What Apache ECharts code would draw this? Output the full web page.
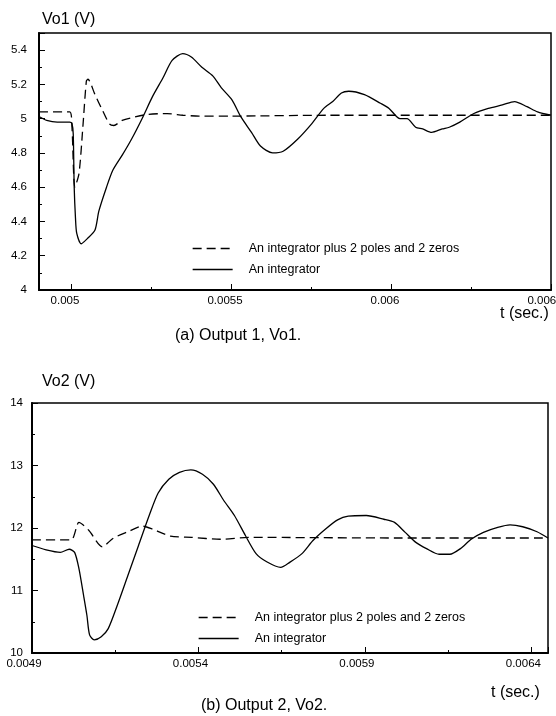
<!DOCTYPE html>
<html>
<head>
<meta charset="utf-8">
<script src="https://cdn.jsdelivr.net/npm/echarts@6/dist/echarts.min.js"></script>
<style>
  html, body { margin: 0; padding: 0; background: #fff; }
  #chart { width: 556px; height: 716px; }
</style>
</head>
<body>
<div id="chart"></div>
<script>
// names of the two controllers
const nameFilter = 'An integrator plus 2 poles and 2 zeros'
const nameInt = 'An integrator'

// (a) output 1, Vo1 : [t (sec), volts]
const vo1Filter = [
  [0.0049, 5.04], [0.004996, 5.04], [0.005003, 4.95], [0.005012, 4.6], [0.005025, 4.68],
  [0.005037, 4.95], [0.005048, 5.22], [0.005053, 5.23], [0.005075, 5.14], [0.005098, 5.05],
  [0.00512, 4.97], [0.005134, 4.96], [0.00516, 4.99], [0.0052, 5.01], [0.00524, 5.025],
  [0.0053, 5.03], [0.00535, 5.02], [0.0054, 5.015], [0.0055, 5.015], [0.0058, 5.02],
  [0.0062, 5.02], [0.0065, 5.02]
]
const vo1Int = [
  [0.004903, 5.01], [0.004924, 4.99], [0.004957, 4.98], [0.004996, 4.98], [0.005003, 4.97],
  [0.005007, 4.91], [0.00501, 4.6], [0.005014, 4.42], [0.005018, 4.33], [0.005032, 4.27],
  [0.005051, 4.3], [0.005075, 4.35], [0.005087, 4.46], [0.005111, 4.6], [0.005131, 4.7],
  [0.005161, 4.79], [0.005189, 4.88], [0.005222, 5.0], [0.005255, 5.13], [0.005288, 5.24],
  [0.005316, 5.34], [0.005349, 5.38], [0.005376, 5.36], [0.005409, 5.3], [0.005443, 5.25],
  [0.00547, 5.18], [0.005503, 5.11], [0.005531, 5.01], [0.005564, 4.92], [0.005592, 4.84],
  [0.00563, 4.8], [0.005663, 4.81], [0.005708, 4.88], [0.005752, 4.97], [0.00579, 5.06],
  [0.005818, 5.1], [0.005845, 5.15], [0.005868, 5.16], [0.005917, 5.14], [0.005967, 5.09],
  [0.005994, 5.06], [0.006028, 5.0], [0.00605, 5.0], [0.006077, 4.95], [0.006099, 4.94],
  [0.006127, 4.92], [0.00616, 4.94], [0.006182, 4.95], [0.006215, 4.98], [0.006259, 5.03],
  [0.006304, 5.06], [0.006348, 5.08], [0.006386, 5.1], [0.006425, 5.07], [0.006458, 5.04],
  [0.0065, 5.02]
]

// (b) output 2, Vo2
const vo2Filter = [
  [0.0049, 11.81], [0.005017, 11.81], [0.005041, 12.09], [0.005071, 11.96], [0.005111, 11.7],
  [0.005145, 11.84], [0.005188, 11.94], [0.005231, 12.03], [0.005263, 11.98], [0.005316, 11.87],
  [0.00538, 11.85], [0.005466, 11.82], [0.005551, 11.85], [0.006, 11.84], [0.00645, 11.84]
]
const vo2Int = [
  [0.0049, 11.72], [0.0049425, 11.65], [0.004985, 11.61], [0.005012, 11.66], [0.005028, 11.61],
  [0.005041, 11.35], [0.005055, 10.92], [0.005065, 10.6], [0.005073, 10.29], [0.005087, 10.21],
  [0.005108, 10.26], [0.005129, 10.39], [0.005156, 10.76], [0.005188, 11.24], [0.00522, 11.72],
  [0.005252, 12.2], [0.005279, 12.56], [0.005311, 12.78], [0.005343, 12.89], [0.005377, 12.93],
  [0.005412, 12.86], [0.005445, 12.7], [0.005476, 12.44], [0.005508, 12.2], [0.005541, 11.88],
  [0.005573, 11.59], [0.005605, 11.46], [0.005647, 11.37], [0.005674, 11.45], [0.005711, 11.59],
  [0.005744, 11.8], [0.005781, 11.98], [0.005818, 12.13], [0.00585, 12.19], [0.005904, 12.2],
  [0.005957, 12.14], [0.005989, 12.09], [0.006021, 11.93], [0.006053, 11.77], [0.006085, 11.67],
  [0.006123, 11.58], [0.006155, 11.58], [0.006187, 11.67], [0.006219, 11.82], [0.006256, 11.93],
  [0.006299, 12.01], [0.006336, 12.05], [0.006374, 12.02], [0.006417, 11.94], [0.00645, 11.84]
]

// tick labels
const xLabels1 = [0.005, 0.0055, 0.006, 0.0065]
const xMinor1 = [0.00525, 0.00575, 0.00625]

const font = 'Liberation Sans, Arial, sans-serif'
const chart = echarts.init(document.getElementById('chart'), null, { renderer: 'canvas' })

function txt(text, left, top, size) {
  return { text: text, left: left, top: top, padding: 0,
    textStyle: { fontFamily: font, fontSize: size, fontWeight: 'normal', color: '#000' } }
}

function line(name, data, xi, dashed) {
  return {
    name: name, type: 'line', xAxisIndex: xi, yAxisIndex: xi === 0 ? 0 : 1,
    data: data, symbol: 'none', showSymbol: false, smooth: 0.25, silent: true,
    lineStyle: { color: '#000', width: 1.3, type: dashed ? [9, 5] : 'solid' },
    itemStyle: { color: '#000' }
  }
}

const axisLbl = { fontFamily: font, fontSize: 11.5, color: '#000' }

function legendAt(left, top) {
  return {
    left: left, top: top, orient: 'vertical', itemWidth: 40, itemHeight: 12, itemGap: 8,
    data: [nameFilter, nameInt], selectedMode: false,
    itemStyle: { opacity: 0 },
    lineStyle: { color: '#000', width: 1.3 },
    textStyle: { fontFamily: font, fontSize: 12.5, color: '#000', padding: [0, 0, 0, 11] }
  }
}

let options = {
  animation: false,
  backgroundColor: '#fff',
  title: [
    txt('Vo1 (V)', 42, 12, 16),
    txt('t (sec.)', 500, 306, 16),
    txt('(a) Output 1, Vo1.', 175, 328, 16),
    txt('Vo2 (V)', 42, 374, 16),
    txt('t (sec.)', 491, 685, 16),
    txt('(b) Output 2, Vo2.', 201, 698, 16)
  ],
  legend: [legendAt(187, 237), legendAt(193, 606)],
  grid: [
    { left: 39, right: 5, top: 33, height: 257, outerBoundsMode: 'none',
      show: true, borderColor: '#000', borderWidth: 1.5 },
    { left: 32, right: 8, top: 403, height: 250, outerBoundsMode: 'none',
      show: true, borderColor: '#000', borderWidth: 1.5 }
  ],
  xAxis: [
    {
      gridIndex: 0, type: 'value', min: 0.0049, max: 0.0065,
      axisLine: { lineStyle: { color: '#000', width: 2 } },
      axisTick: { inside: true, length: 6, customValues: xLabels1, lineStyle: { color: '#000' } },
      axisLabel: { customValues: xLabels1, margin: 5, padding: [0, 12, 0, 0], ...axisLbl },
      splitLine: { show: false }
    },
    {
      gridIndex: 1, type: 'value', min: 0.0049, max: 0.00645, interval: 0.0005,
      axisLine: { lineStyle: { color: '#000', width: 2 } },
      axisTick: { inside: true, length: 6, lineStyle: { color: '#000' } },
      minorTick: { show: true, splitNumber: 2, length: 3, lineStyle: { color: '#000' } },
      axisLabel: { showMaxLabel: false, margin: 5, padding: [0, 16, 0, 0], ...axisLbl },
      splitLine: { show: false }
    },
    {
      // short ticks between labelled ones on the upper chart
      gridIndex: 0, type: 'value', min: 0.0049, max: 0.0065, position: 'bottom',
      axisLine: { show: false },
      axisTick: { inside: true, length: 3, customValues: xMinor1, lineStyle: { color: '#000' } },
      axisLabel: { show: false },
      splitLine: { show: false }
    }
  ],
  yAxis: [
    {
      gridIndex: 0, type: 'value', min: 4, max: 5.5, interval: 0.2,
      axisLine: { lineStyle: { color: '#000', width: 2 } },
      axisTick: { inside: true, length: 6, lineStyle: { color: '#000' } },
      minorTick: { show: true, splitNumber: 2, length: 3, lineStyle: { color: '#000' } },
      axisLabel: { showMaxLabel: false, margin: 12, ...axisLbl },
      splitLine: { show: false }
    },
    {
      gridIndex: 1, type: 'value', min: 10, max: 14, interval: 1,
      axisLine: { lineStyle: { color: '#000', width: 2 } },
      axisTick: { inside: true, length: 6, lineStyle: { color: '#000' } },
      minorTick: { show: true, splitNumber: 2, length: 3, lineStyle: { color: '#000' } },
      axisLabel: { margin: 9, ...axisLbl },
      splitLine: { show: false }
    }
  ],
  series: [
    line(nameFilter, vo1Filter, 0, true),
    line(nameInt, vo1Int, 0, false),
    line(nameFilter, vo2Filter, 1, true),
    line(nameInt, vo2Int, 1, false)
  ]
}
chart.setOption(options)
</script>
</body>
</html>
